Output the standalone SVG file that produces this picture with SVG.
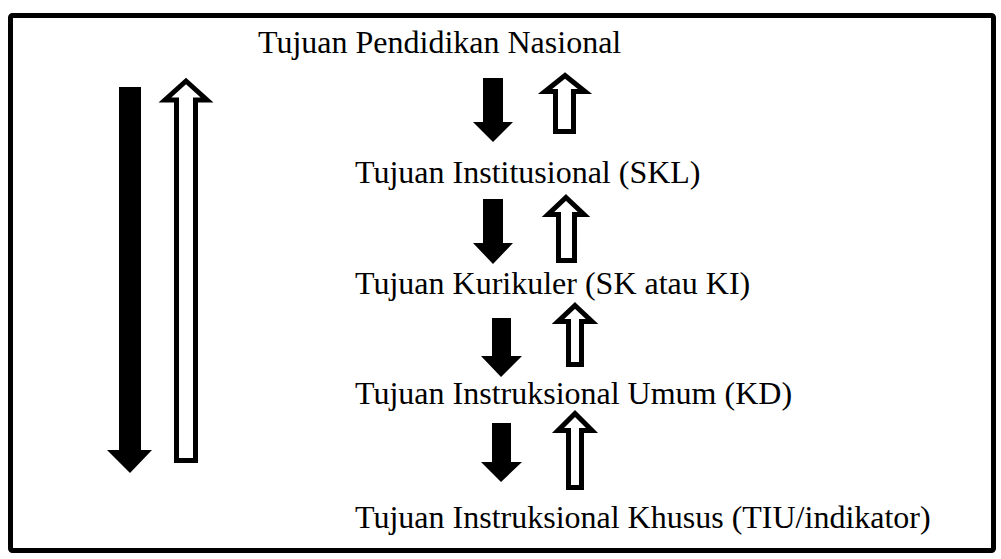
<svg xmlns="http://www.w3.org/2000/svg" width="1001" height="559" viewBox="0 0 1001 559">
<style>
.t{font-family:"Liberation Serif","Times New Roman",serif;font-size:32px;fill:#000}
.solid{fill:#000;stroke:none}
.hollow{fill:#fff;stroke:#000;stroke-width:5;stroke-linejoin:miter;stroke-miterlimit:10}
</style>
<rect x="0" y="0" width="1001" height="559" fill="#fff"/>
<rect x="10.5" y="15.5" width="983" height="535" rx="2" fill="#fff" stroke="#000" stroke-width="5"/>
<g id="connectors">
<polygon class="solid" points="119,87 141,87 141,450 152,450 130,473 107,450 119,450"/>
<polygon class="hollow" points="186,81 207,100 195.5,100 195.5,460.5 176.5,460.5 176.5,100 165,100"/>
<polygon class="solid" points="483,78 503,78 503,122 513,122 493,142 473,122 483,122"/>
<polygon class="hollow" points="565,75.5 585,91.5 573.5,91.5 573.5,131.5 555.5,131.5 555.5,91.5 545,91.5"/>
<polygon class="solid" points="483,199 503,199 503,243 513,243 493,264 473,243 483,243"/>
<polygon class="hollow" points="566,197.5 584,214.5 574.5,214.5 574.5,260.5 558.5,260.5 558.5,214.5 548,214.5"/>
<polygon class="solid" points="492,318 511,318 511,356 522,356 501,377 481,356 492,356"/>
<polygon class="hollow" points="575,305.5 592,321.5 581.5,321.5 581.5,364.5 568.5,364.5 568.5,321.5 558,321.5"/>
<polygon class="solid" points="492,423 511,423 511,462 522,462 501,482 481,462 492,462"/>
<polygon class="hollow" points="575,413.5 592,430.5 581.5,430.5 581.5,487.5 568.5,487.5 568.5,430.5 558,430.5"/>
</g>
<g id="n1"><text class="t" x="258" y="53">Tujuan Pendidikan Nasional</text></g>
<g id="n2"><text class="t" x="355" y="183">Tujuan Institusional (SKL)</text></g>
<g id="n3"><text class="t" x="355" y="294">Tujuan Kurikuler (SK atau KI)</text></g>
<g id="n4"><text class="t" x="355" y="404">Tujuan Instruksional Umum (KD)</text></g>
<g id="n5"><text class="t" x="355" y="528">Tujuan Instruksional Khusus (TIU/indikator)</text></g>
</svg>
